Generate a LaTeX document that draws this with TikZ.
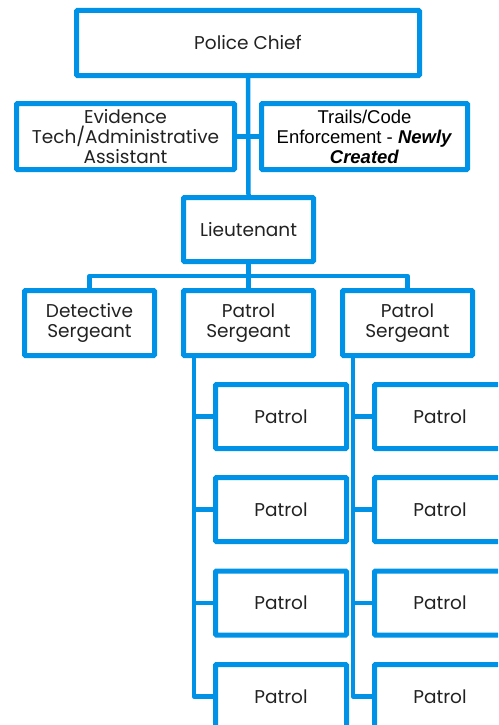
\documentclass[tikz,border=0pt]{standalone}
\usepackage{fontspec}
\setmainfont{Poppins}
\newfontfamily\arialfont{Liberation Sans}
\usetikzlibrary{arrows.meta, calc, positioning}
\definecolor{orgblue}{RGB}{0,146,230}
\definecolor{orgtext}{RGB}{34,34,34}
\tikzset{
    post/.style={draw=orgblue, line width=5pt, fill=white, rounded corners=1pt,
        align=center, text=orgtext, inner sep=0pt,
        font=\fontsize{18.5}{20}\selectfont},
    small post/.style={post, minimum width=130pt, minimum height=65pt},
    patrol post/.style={post, minimum width=131pt, minimum height=64pt},
    link/.style={draw=orgblue, line width=4.5pt, line join=round},
}

\begin{document}
\begin{tikzpicture}[>=Stealth, x=1pt, y=-1pt]
        \useasboundingbox (0,0) rectangle (498,725);
        \clip (0,0) rectangle (498,725);
        \node[post, minimum width=343pt, minimum height=65pt] (chief) at (248,43) {Police Chief};
        \node[post, minimum width=218pt, minimum height=66pt] (evid) at (125.5,136.5)
            {Evidence\\Tech/Administrative\\Assistant};
        \node[post, minimum width=206pt, minimum height=66pt,
            font=\arialfont\fontsize{18.5}{20}\selectfont, text=black] (trails) at (364.5,136.5)
            {Trails/Code\\Enforcement - \textbf{\textit{Newly}}\\\textbf{\textit{Created}}};
        \node[small post, minimum height=64pt] (lieut) at (248.5,229.5) {Lieutenant};
        \node[small post] (det) at (89.5,323) {Detective\\Sergeant};
        \node[small post] (sgtA) at (248.5,323) {Patrol\\Sergeant};
        \node[small post] (sgtB) at (407.5,323) {Patrol\\Sergeant};
        \foreach \i/\y in {1/416.5, 2/509.5, 3/603, 4/696.5} {
            \node[patrol post] (pa\i) at (281,\y) {Patrol};
            \node[patrol post] (pb\i) at (440,\y) {Patrol};
        }
        \draw[link] (chief.south) -- (lieut.north);
        \draw[link] (evid.east) -- (trails.west);
        \coordinate (bus) at ($(lieut.south)!0.5!(sgtA.north)$);
        \draw[link] (lieut.south) -- (sgtA.north);
        \draw[link] (det.north) |- (bus) -| (sgtB.north);
        \coordinate (sa) at ([xshift=13pt]sgtA.south west);
        \coordinate (sb) at ([xshift=13pt]sgtB.south west);
        \draw[link] (sa) |- (pa4.west);
        \draw[link] (sb) |- (pb4.west);
        \foreach \i in {1,2,3} {
            \draw[link] (pa\i.west) -- (pa\i.west -| sa);
            \draw[link] (pb\i.west) -- (pb\i.west -| sb);
        }
\end{tikzpicture}
\end{document}
